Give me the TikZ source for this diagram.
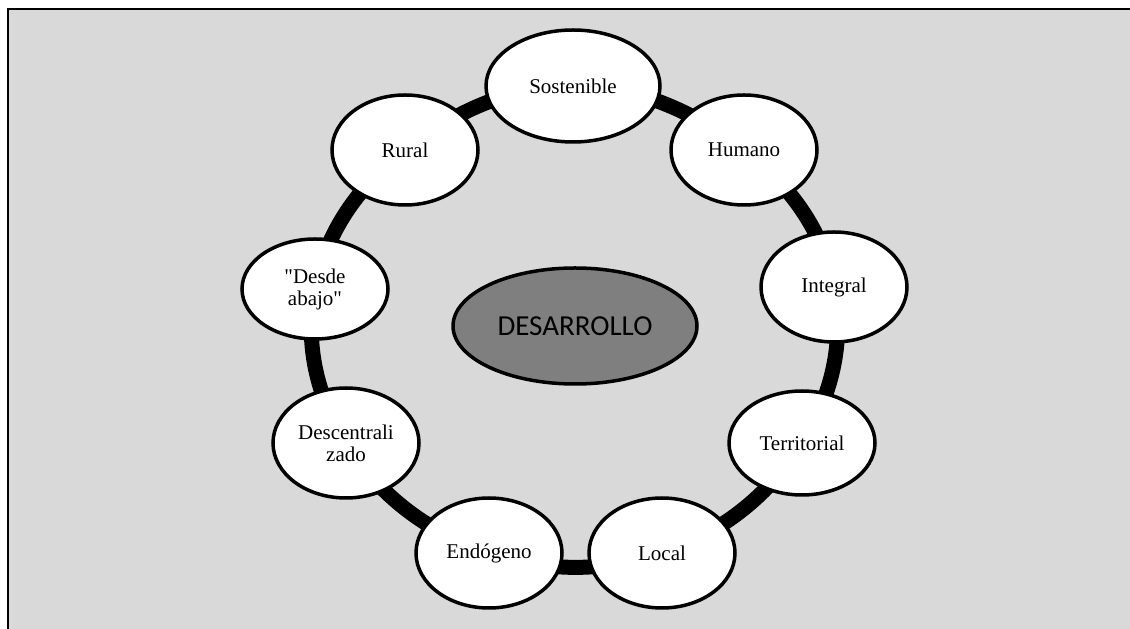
\documentclass[tikz,border=0pt]{standalone}
\usepackage{fontspec}
\setmainfont{Liberation Serif}[Ligatures=TeXOff]
\newfontfamily\calfont{Carlito}
\usetikzlibrary{shapes.geometric}
\pgfdeclarelayer{paper}
\pgfdeclarelayer{ringlayer}
\pgfsetlayers{paper,ringlayer,main}
\definecolor{panelgray}{HTML}{D9D9D9}
\definecolor{coregray}{HTML}{7F7F7F}
\tikzset{
  petal/.style={ellipse, draw=black, line width=3.5pt, fill=white, inner sep=0pt,
    minimum width=146pt, minimum height=110pt, align=center,
    font=\fontsize{21}{22}\selectfont},
  core/.style={ellipse, draw=black, line width=3.5pt, fill=coregray, inner sep=0pt,
    minimum width=244pt, minimum height=116pt,
    font=\calfont\fontsize{29}{32}\selectfont},
  ring/.style={line width=15pt, draw=black, looseness=0.9},
}
\begin{document}
\begin{tikzpicture}[x=1pt,y=1pt]
\useasboundingbox (0,0) rectangle (1130,629);
\begin{pgfonlayer}{paper}
  \fill[white] (0,0) rectangle (1130,629);
  \fill[panelgray] (8,0) rectangle (1130,620);
  \draw[line width=2pt] (8,0) -- (8,620) -- (1130,620);
\end{pgfonlayer}

% centre of the cycle
\node[core] (des) at (575,303) {DESARROLLO};

% the nine forms of development around it
\node[petal, minimum width=174pt, minimum height=112pt] (sost) at (573,543) {Sostenible};
\node[petal] (hum)   at (744,479) {Humano};
\node[petal] (integ) at (834,342) {Integral};
\node[petal, minimum height=104pt] (terr) at (802,186) {Territorial};
\node[petal] (loc)   at (662,76)  {Local};
\node[petal] (endo)  at (489,76)  {Endógeno};
\node[petal] (desc)  at (346,186) {Descentrali\\zado};
\node[petal, minimum height=100pt] (abajo) at (315,340) {"Desde\\abajo"};
\node[petal] (rur)   at (405,479) {Rural};

% thick ring linking the nodes, drawn behind them
\begin{pgfonlayer}{ringlayer}
  \draw[ring] (sost.center) to[out=0,in=142.5] (hum.center)
                            to[out=-37.5,in=100.9] (integ.center)
                            to[out=-79.1,in=57.7] (terr.center)
                            to[out=-122.3,in=18.4] (loc.center)
                            to[out=-161.6,in=-18.4] (endo.center)
                            to[out=161.6,in=-57.7] (desc.center)
                            to[out=122.3,in=-100.9] (abajo.center)
                            to[out=79.1,in=-142.5] (rur.center)
                            to[out=37.5,in=180] (sost.center);
\end{pgfonlayer}
\end{tikzpicture}
\end{document}
